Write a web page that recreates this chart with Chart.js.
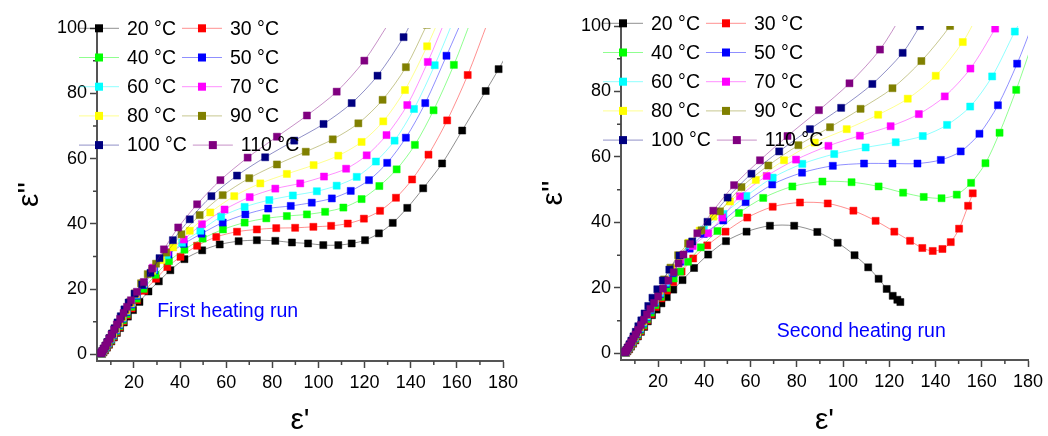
<!DOCTYPE html>
<html>
<head>
<meta charset="utf-8">
<script src="https://cdn.jsdelivr.net/npm/chart.js@4/dist/chart.umd.min.js"></script>
<style>
  body { margin: 0; background: #fff; }
  .panel { position: absolute; top: 0; width: 524px; height: 436px; }
</style>
</head>
<body>
<div class="panel" style="left:0"><canvas id="run1"></canvas></div>
<div class="panel" style="left:524px"><canvas id="run2"></canvas></div>
<script>
const labels = ['20 °C', '30 °C', '40 °C', '50 °C', '60 °C', '70 °C', '80 °C', '90 °C', '100 °C', '110 °C'];
const xTicks = [20, 40, 60, 80, 100, 120, 140, 160, 180];
const yTicks = [0, 20, 40, 60, 80, 100];
const xMinor = [10, 30, 50, 70, 90, 110, 130, 150, 170];
const yMinor = [10, 30, 50, 70, 90];

// first heating run, [eps', eps''] pairs
const first20 = [[6.2,0.2],[6.8,0.7],[7.5,1.3],[8.3,2.1],[9.2,3.0],[10.2,4.0],[11.3,5.2],[12.6,6.6],[14.0,8.1],[15.6,9.8],[17.4,11.6],[19.6,13.6],[22.4,16.1],[26.3,19.3],[30.8,22.4],[35.8,25.8],[41.9,29.2],[49.6,31.9],[57.2,33.7],[65.4,34.7],[73.3,35.0],[81.3,34.8],[88.5,34.3],[95.5,34.0],[102.1,33.5],[108.6,33.5],[114.4,34.0],[120.2,35.0],[126.2,37.1],[132.2,40.3],[138.5,44.9],[145.4,50.9],[153.6,58.5],[162.3,68.6],[172.5,80.7],[178.1,87.4],[184.0,95.0]];
const first30 = [[6.1,0.3],[6.7,0.8],[7.4,1.4],[8.2,2.2],[9.1,3.1],[10.1,4.2],[11.2,5.4],[12.4,6.8],[13.8,8.4],[15.3,10.1],[17.0,12.0],[19.0,14.1],[21.4,16.6],[24.5,19.5],[29.6,23.2],[34.5,26.8],[40.2,29.9],[47.4,33.3],[55.7,36.0],[64.7,37.6],[73.3,38.3],[81.7,38.7],[89.9,38.8],[97.8,39.1],[105.5,39.4],[112.7,40.1],[119.7,41.6],[126.7,44.0],[133.6,48.0],[140.6,53.6],[147.7,61.2],[155.8,71.7],[164.7,85.6],[173.5,102.0]];
const first40 = [[6.0,0.3],[6.6,0.9],[7.3,1.5],[8.1,2.3],[9.0,3.3],[10.0,4.4],[11.1,5.7],[12.3,7.1],[13.7,8.7],[15.2,10.5],[16.9,12.4],[18.9,14.6],[21.2,17.1],[24.2,20.1],[29.4,24.4],[35.2,28.6],[41.9,32.1],[49.8,35.5],[58.6,38.3],[68.0,40.4],[77.4,41.7],[86.3,42.4],[95.0,42.9],[102.9,43.7],[110.8,45.0],[118.7,47.6],[126.4,51.6],[133.9,56.7],[141.8,64.2],[149.9,74.8],[158.7,88.7],[166.5,103.0]];
const first50 = [[5.9,0.3],[6.5,0.9],[7.2,1.6],[8.0,2.4],[8.9,3.4],[9.9,4.6],[11.0,5.9],[12.2,7.4],[13.6,9.1],[15.1,11.0],[16.8,13.0],[18.8,15.3],[21.2,18.0],[24.3,21.3],[28.8,25.8],[35.0,30.6],[41.6,33.9],[49.3,37.0],[58.5,40.4],[68.3,42.9],[78.2,44.7],[88.0,45.5],[97.1,46.5],[105.8,47.8],[114.0,50.1],[121.9,53.4],[129.8,58.7],[137.9,66.4],[146.3,77.0],[155.5,91.5],[164.5,106.0]];
const first60 = [[5.9,0.3],[6.5,1.0],[7.2,1.7],[8.0,2.6],[8.9,3.6],[9.9,4.8],[11.0,6.1],[12.2,7.6],[13.6,9.3],[15.1,11.2],[16.8,13.3],[18.8,15.6],[21.1,18.3],[24.1,21.6],[28.5,26.0],[34.3,30.4],[40.9,34.2],[48.8,37.9],[57.8,42.2],[68.0,45.2],[78.7,47.3],[88.9,48.7],[99.3,50.0],[107.9,51.7],[116.6,54.4],[124.9,59.1],[133.0,65.5],[141.4,75.2],[150.4,88.6],[159.5,104.0]];
const first70 = [[5.9,0.4],[6.4,1.0],[7.1,1.8],[7.9,2.7],[8.8,3.7],[9.8,4.9],[10.9,6.3],[12.1,7.8],[13.5,9.5],[15.0,11.4],[16.7,13.5],[18.6,15.8],[20.9,18.5],[23.8,21.8],[28.3,26.6],[34.6,31.4],[41.6,35.2],[49.5,39.9],[59.3,44.4],[70.2,48.2],[81.3,50.8],[92.1,52.4],[102.4,54.5],[112.0,56.9],[120.9,61.0],[129.5,67.2],[138.5,76.4],[147.4,89.6],[156.5,105.0]];
const first80 = [[5.9,0.3],[6.4,1.0],[7.1,1.8],[7.9,2.7],[8.8,3.8],[9.8,5.0],[10.9,6.4],[12.1,7.9],[13.5,9.6],[15.0,11.5],[16.6,13.5],[18.5,15.8],[20.8,18.5],[23.8,21.8],[27.9,25.6],[31.8,28.9],[37.0,32.8],[44.2,37.9],[53.1,43.5],[63.5,48.5],[74.8,52.4],[86.3,55.3],[97.9,58.0],[108.6,60.9],[118.7,65.1],[128.1,71.4],[137.5,81.0],[147.1,94.4],[152.5,103.0]];
const first90 = [[5.8,0.4],[6.4,1.0],[7.0,1.8],[7.8,2.7],[8.7,3.8],[9.6,5.0],[10.7,6.4],[11.9,8.0],[13.2,9.7],[14.7,11.6],[16.3,13.7],[18.2,16.0],[20.4,18.7],[23.1,21.8],[26.0,24.6],[29.6,27.8],[34.0,31.2],[40.6,36.8],[48.5,42.7],[58.5,48.8],[70.0,54.0],[82.0,58.2],[94.5,62.1],[106.2,65.9],[117.3,70.8],[127.8,78.0],[137.9,88.0],[147.0,101.0]];
const first100 = [[5.8,0.4],[6.3,1.0],[6.9,1.8],[7.7,2.7],[8.5,3.8],[9.4,5.0],[10.5,6.4],[11.6,8.0],[12.9,9.8],[14.3,11.7],[15.9,13.8],[17.7,15.9],[20.3,18.6],[23.6,21.4],[27.2,25.0],[31.1,29.5],[36.9,35.0],[44.2,41.4],[53.6,48.5],[64.7,54.8],[76.9,60.4],[89.5,65.5],[102.2,70.6],[114.4,77.0],[125.6,85.4],[136.9,97.2],[141.0,103.0]];
const first110 = [[5.8,0.4],[6.3,1.0],[6.9,1.7],[7.6,2.6],[8.4,3.6],[9.3,4.8],[10.3,6.1],[11.4,7.6],[12.6,9.2],[14.0,10.9],[15.5,12.7],[17.0,14.6],[18.7,16.6],[21.3,19.2],[24.3,22.2],[27.9,26.3],[33.0,32.2],[39.2,38.9],[47.4,46.0],[57.5,53.4],[69.3,60.3],[82.0,66.7],[95.0,73.2],[107.9,80.5],[119.9,90.0],[130.5,101.5]];

// second heating run
const second20 = [[6.2,0.2],[6.8,0.7],[7.5,1.3],[8.3,2.1],[9.2,3.0],[10.2,4.0],[11.3,5.2],[12.6,6.6],[14.0,8.1],[15.6,9.8],[17.4,11.7],[19.4,13.4],[21.5,15.3],[23.8,17.2],[26.6,19.5],[30.6,22.4],[35.6,26.1],[41.7,30.2],[49.4,34.3],[58.3,37.2],[68.4,39.0],[78.9,39.0],[88.9,37.1],[97.7,33.8],[105.0,30.0],[110.9,26.3],[115.4,22.8],[118.9,19.7],[121.5,17.6],[123.5,16.4],[124.8,15.7]];
const second30 = [[6.1,0.3],[6.7,0.8],[7.4,1.4],[8.2,2.2],[9.1,3.1],[10.1,4.2],[11.2,5.4],[12.4,6.8],[13.8,8.4],[15.3,10.1],[17.0,12.0],[19.0,14.2],[21.4,16.8],[23.9,19.2],[26.6,21.8],[30.2,25.0],[35.2,29.0],[41.3,33.0],[49.2,37.2],[58.6,41.5],[69.6,44.8],[81.4,46.1],[93.4,45.8],[104.5,43.6],[114.1,40.5],[122.2,37.2],[129.0,34.4],[134.3,32.2],[138.8,31.3],[143.0,31.9],[146.6,34.0],[150.2,38.1],[154.1,45.1],[156.1,48.9]];
const second40 = [[6.0,0.3],[6.6,0.9],[7.3,1.5],[8.1,2.3],[9.0,3.3],[10.0,4.4],[11.1,5.7],[12.3,7.1],[13.7,8.7],[15.2,10.5],[16.9,12.5],[18.9,14.8],[21.2,17.3],[23.8,20.0],[26.8,22.9],[29.6,25.0],[33.0,28.0],[38.5,32.4],[45.7,37.4],[55.0,42.9],[65.5,47.5],[78.1,51.0],[91.1,52.5],[103.7,52.3],[115.4,51.0],[126.0,49.1],[134.9,47.8],[142.6,47.4],[149.2,48.5],[155.4,52.1],[161.6,58.1],[167.7,67.4],[174.9,80.5],[182.0,95.0]];
const second50 = [[5.9,0.3],[6.5,0.9],[7.2,1.6],[8.0,2.5],[8.9,3.5],[9.9,4.7],[11.0,6.0],[12.2,7.5],[13.6,9.2],[15.1,11.1],[16.8,13.2],[18.7,15.6],[20.9,18.2],[23.4,21.2],[26.3,24.5],[29.6,28.0],[33.7,32.0],[39.8,36.5],[48.2,40.6],[57.9,46.2],[69.4,51.6],[82.3,55.2],[95.6,57.3],[109.1,58.0],[121.4,58.0],[132.2,58.0],[142.3,59.1],[150.9,61.7],[159.0,67.1],[167.0,75.8],[175.3,88.5],[182.0,100.5]];
const second60 = [[5.9,0.3],[6.5,1.0],[7.2,1.7],[8.0,2.6],[8.9,3.6],[9.9,4.8],[11.0,6.2],[12.2,7.7],[13.6,9.4],[15.1,11.3],[16.8,13.4],[18.7,15.8],[20.9,18.5],[23.4,21.6],[26.2,25.0],[29.5,28.8],[33.5,33.0],[39.8,37.8],[48.3,42.6],[58.2,48.1],[69.6,53.7],[82.4,57.9],[96.2,60.9],[109.8,62.9],[122.8,64.5],[134.5,66.4],[145.0,69.8],[155.0,75.4],[164.5,84.6],[174.3,98.3],[178.0,103.0]];
const second70 = [[5.9,0.4],[6.4,1.0],[7.1,1.8],[7.9,2.7],[8.8,3.8],[9.8,5.0],[10.9,6.4],[12.1,8.0],[13.5,9.8],[15.0,11.8],[16.7,14.0],[18.6,16.4],[20.7,19.1],[23.2,22.2],[26.0,25.6],[29.6,28.6],[35.0,32.8],[41.7,36.7],[47.8,41.5],[55.4,48.0],[67.0,54.2],[79.7,59.2],[93.7,63.4],[107.3,66.5],[120.6,69.4],[132.8,73.1],[144.0,78.5],[155.1,87.0],[165.8,99.2],[168.5,103.0]];
const second80 = [[5.9,0.3],[6.4,1.0],[7.1,1.8],[7.9,2.7],[8.8,3.8],[9.8,5.0],[10.9,6.4],[12.1,8.0],[13.5,9.8],[15.0,11.8],[16.6,14.0],[18.5,16.4],[20.6,19.2],[23.1,22.4],[25.9,25.8],[29.2,29.6],[33.4,33.8],[38.0,37.5],[44.0,41.8],[51.1,46.4],[62.3,53.0],[74.5,59.0],[87.8,64.4],[101.6,68.5],[115.2,72.9],[128.0,77.8],[140.1,84.8],[151.8,95.1],[158.0,103.0]];
const second90 = [[5.8,0.4],[6.4,1.0],[7.0,1.8],[7.8,2.7],[8.7,3.8],[9.6,5.1],[10.7,6.5],[11.9,8.1],[13.2,9.9],[14.7,11.9],[16.3,14.1],[18.1,16.6],[20.2,19.4],[22.6,22.6],[25.4,26.2],[28.7,30.0],[33.0,33.6],[38.8,37.6],[46.8,43.4],[56.1,50.8],[67.7,57.4],[80.7,63.6],[94.4,69.1],[107.6,74.7],[121.4,81.0],[133.9,89.3],[146.3,100.0],[151.0,106.0]];
const second100 = [[5.8,0.4],[6.3,1.0],[6.9,1.8],[7.7,2.8],[8.5,3.9],[9.4,5.2],[10.4,6.6],[11.5,8.3],[12.8,10.1],[14.2,12.2],[15.8,14.5],[17.6,17.0],[19.7,19.6],[22.1,22.3],[24.9,25.6],[29.3,29.9],[34.8,34.2],[41.4,40.2],[50.1,47.6],[60.4,54.9],[72.4,61.7],[85.7,68.5],[99.2,75.0],[112.7,82.3],[125.8,91.8],[133.3,100.0],[138.0,105.0]];
const second110 = [[5.8,0.4],[6.3,0.9],[6.9,1.6],[7.6,2.4],[8.4,3.4],[9.3,4.5],[10.3,5.8],[11.4,7.2],[12.6,8.7],[13.9,10.3],[15.2,11.9],[16.7,13.6],[18.3,15.4],[20.1,17.4],[22.2,19.8],[24.5,22.3],[26.8,24.8],[28.9,27.5],[31.0,30.2],[33.9,33.4],[37.0,36.7],[43.9,43.6],[52.9,51.4],[64.1,59.0],[76.0,66.4],[89.6,74.3],[102.8,82.5],[116.0,92.8],[126.0,104.0]];

const colors = ['#000000', '#ff0000', '#00ff00', '#0000ff', '#00ffff', '#ff00ff', '#ffff00', '#808000', '#000080', '#800080'];
const FONT = '"Liberation Sans", Arial, sans-serif';

Chart.defaults.font.family = FONT;
Chart.defaults.color = '#000';

// minor ticks, legend and panel note
const extras = {
  id: 'extras',
  afterDraw(chart, args, opts) {
    const ctx = chart.ctx, xs = chart.scales.x, ys = chart.scales.y, a = chart.chartArea;
    ctx.save();
    ctx.strokeStyle = '#444';
    ctx.lineWidth = 1.5;
    ctx.beginPath();
    xMinor.forEach(v => { const p = xs.getPixelForValue(v); ctx.moveTo(p, a.bottom); ctx.lineTo(p, a.bottom + 4); });
    yMinor.forEach(v => { const p = ys.getPixelForValue(v); ctx.moveTo(a.left, p); ctx.lineTo(a.left - 4, p); });
    ctx.stroke();

    ctx.fillStyle = '#0000ff';
    ctx.font = '19.5px ' + FONT;
    ctx.textBaseline = 'middle';
    ctx.fillText(opts.note, xs.getPixelForValue(opts.noteAt[0]), ys.getPixelForValue(opts.noteAt[1]));

    // legend: 2 entries per row, flowing
    ctx.font = '19.5px ' + FONT;
    const sets = chart.data.datasets;
    let mx = 0;
    sets.forEach((ds, i) => {
      const row = Math.floor(i / 2);
      const y = a.top + opts.legendDy + row * 29.2;
      if (i % 2 === 0) mx = a.left + 2;
      ctx.strokeStyle = ds.borderColor;
      ctx.lineWidth = 1;
      ctx.beginPath();
      ctx.moveTo(mx - 20, y);
      ctx.lineTo(mx + 20, y);
      ctx.stroke();
      ctx.fillStyle = ds.pointBackgroundColor;
      ctx.fillRect(mx - 4, y - 4, 8, 8);
      ctx.fillStyle = '#000';
      ctx.fillText(ds.label, mx + 28, y + 1);
      mx = mx + 28 + ctx.measureText(ds.label).width + 26;
    });
    ctx.restore();
  }
};

function makeChart(id, series, note, noteAt, pad) {
  return new Chart(document.getElementById(id), {
    type: 'scatter',
    data: {
      datasets: series.map((pts, i) => ({
        label: labels[i],
        data: pts.map(p => ({ x: p[0], y: p[1] })),
        showLine: true,
        tension: 0.3,
        borderColor: colors[i] + '70',
        borderWidth: 1,
        backgroundColor: colors[i],
        pointStyle: 'rect',
        pointRadius: 5,
        pointBorderWidth: 0.8,
        pointBorderColor: colors[i] + '90',
        pointBackgroundColor: colors[i],
        clip: 0,
        order: series.length - i
      }))
    },
    options: {
      responsive: true,
      maintainAspectRatio: false,
      animation: false,
      layout: { padding: { top: pad.top, right: pad.right, left: 0, bottom: 0 } },
      plugins: {
        legend: { display: false },
        tooltip: { enabled: false },
        extras: { note: note, noteAt: noteAt, legendDy: pad.legendDy }
      },
      scales: {
        x: {
          type: 'linear',
          min: 4,
          max: 180,
          afterBuildTicks: s => { s.ticks = xTicks.map(v => ({ value: v })); },
          afterFit: s => { s.height = pad.xh; },
          grid: { drawOnChartArea: false, tickLength: 7, tickColor: '#444', tickWidth: 1.5 },
          border: { color: '#555', width: 2 },
          ticks: { font: { size: 18 }, color: '#000', padding: 4, maxRotation: 0, autoSkip: false },
          title: { display: true, text: "ε'", font: { size: 30, lineHeight: 1 }, padding: 0, color: '#000' }
        },
        y: {
          type: 'linear',
          min: -2,
          max: 100,
          afterBuildTicks: s => { s.ticks = yTicks.map(v => ({ value: v })); },
          afterFit: s => { s.width = 97; },
          grid: { drawOnChartArea: false, tickLength: 7, tickColor: '#444', tickWidth: 1.5 },
          border: { color: '#555', width: 2 },
          ticks: { font: { size: 18 }, color: '#000', padding: 3, autoSkip: false },
          title: { display: true, text: "ε''", font: { size: 30, lineHeight: 1 }, padding: { top: 15, bottom: 0 }, color: '#000' }
        }
      }
    },
    plugins: [extras]
  });
}

makeChart('run1',
  [first20, first30, first40, first50, first60, first70, first80, first90, first100, first110],
  'First heating run', [30.1, 13.0],
  { top: 28, right: 21, xh: 75, legendDy: 0.3 });

makeChart('run2',
  [second20, second30, second40, second50, second60, second70, second80, second90, second100, second110],
  'Second heating run', [71.3, 6.6],
  { top: 26, right: 20, xh: 76, legendDy: -2.7 });
</script>
</body>
</html>
